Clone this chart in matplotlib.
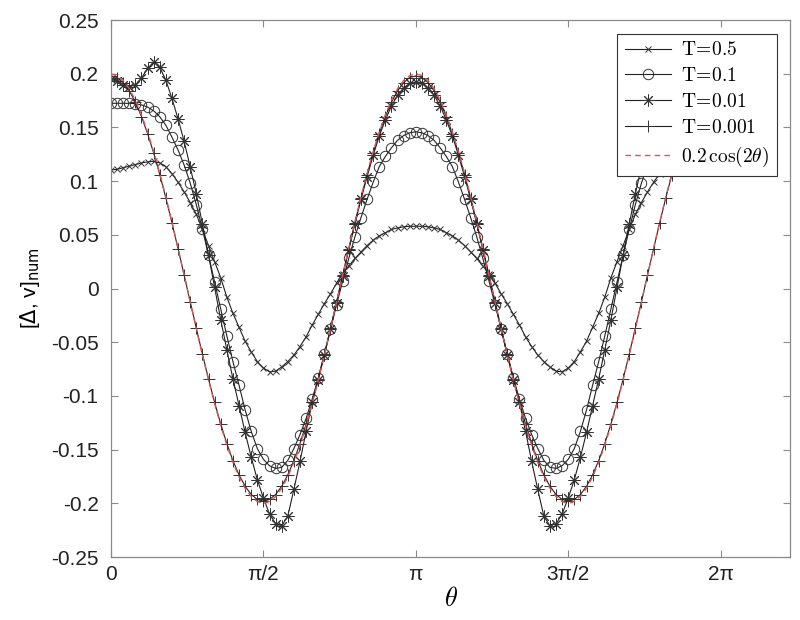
import numpy as np
import matplotlib.pyplot as plt

plt.rcParams['font.family'] = ['Liberation Sans', 'DejaVu Sans']
plt.rcParams['axes.unicode_minus'] = False

# sample angles (101 points over one period)
theta = np.linspace(0, 2 * np.pi, 101)

T05 = [0.1105, 0.111, 0.1125, 0.114, 0.1155, 0.117, 0.118, 0.1185, 0.117, 0.1135,
       0.107, 0.099, 0.090, 0.080, 0.069, 0.055, 0.040, 0.025, 0.010, -0.008,
       -0.023, -0.036, -0.049, -0.059, -0.068, -0.074, -0.0775, -0.077, -0.073, -0.068,
       -0.062, -0.054, -0.045, -0.034, -0.024, -0.014, -0.005, 0.005, 0.014, 0.021,
       0.028, 0.034, 0.040, 0.045, 0.049, 0.052, 0.055, 0.0565, 0.0575, 0.058,
       0.058,
       0.058, 0.0575, 0.0565, 0.055, 0.052, 0.049, 0.045, 0.040, 0.034, 0.028,
       0.021, 0.014, 0.005, -0.005, -0.014, -0.024, -0.034, -0.045, -0.054, -0.062,
       -0.068, -0.073, -0.077, -0.0775, -0.074, -0.068, -0.059, -0.049, -0.036, -0.023,
       -0.008, 0.010, 0.025, 0.040, 0.055, 0.069, 0.080, 0.090, 0.099, 0.107,
       0.1135, 0.117, 0.1185, 0.118, 0.117, 0.1155, 0.114, 0.1125, 0.111, 0.1105]

T01 = [0.1725, 0.1725, 0.1725, 0.1725, 0.1722, 0.171, 0.169, 0.1655, 0.160, 0.152,
       0.141, 0.129, 0.115, 0.098, 0.078, 0.055, 0.031, 0.006, -0.019, -0.044,
       -0.068, -0.090, -0.113, -0.133, -0.149, -0.159, -0.165, -0.1675, -0.1665, -0.160,
       -0.149, -0.136, -0.121, -0.103, -0.083, -0.061, -0.038, -0.015, 0.007, 0.028,
       0.048, 0.066, 0.083, 0.099, 0.1135, 0.123, 0.131, 0.138, 0.1425, 0.145,
       0.146,
       0.145, 0.1425, 0.138, 0.131, 0.123, 0.1135, 0.099, 0.083, 0.066, 0.048,
       0.028, 0.007, -0.015, -0.038, -0.061, -0.083, -0.103, -0.121, -0.136, -0.149,
       -0.160, -0.1665, -0.1675, -0.165, -0.159, -0.149, -0.133, -0.113, -0.090, -0.068,
       -0.044, -0.019, 0.006, 0.031, 0.055, 0.078, 0.098, 0.115, 0.129, 0.141,
       0.152, 0.160, 0.1655, 0.169, 0.171, 0.1722, 0.1725, 0.1725, 0.1725, 0.1725]

T001 = [0.195, 0.193, 0.190, 0.188, 0.1895, 0.196, 0.205, 0.211, 0.206, 0.194,
        0.177, 0.158, 0.137, 0.113, 0.088, 0.060, 0.031, 0.001, -0.029, -0.057,
        -0.084, -0.109, -0.134, -0.157, -0.178, -0.195, -0.210, -0.219, -0.221, -0.212,
        -0.187, -0.161, -0.133, -0.106, -0.085, -0.062, -0.038, -0.013, 0.012, 0.036,
        0.060, 0.083, 0.104, 0.124, 0.142, 0.157, 0.170, 0.180, 0.187, 0.191,
        0.192,
        0.191, 0.187, 0.180, 0.170, 0.157, 0.142, 0.124, 0.104, 0.083, 0.060,
        0.036, 0.012, -0.013, -0.038, -0.062, -0.085, -0.106, -0.133, -0.161, -0.187,
        -0.212, -0.221, -0.219, -0.210, -0.195, -0.178, -0.157, -0.134, -0.109, -0.084,
        -0.057, -0.029, 0.001, 0.031, 0.060, 0.088, 0.113, 0.137, 0.158, 0.177,
        0.194, 0.206, 0.211, 0.205, 0.196, 0.1895, 0.188, 0.190, 0.193, 0.195]

T0001 = [0.198, 0.1965, 0.1918, 0.1841, 0.1735, 0.1602, 0.1443, 0.1262, 0.1061, 0.0843,
         0.0612, 0.0371, 0.0125, -0.0125, -0.0371, -0.0612, -0.0843, -0.1061, -0.1262, -0.1443,
         -0.1602, -0.1735, -0.1841, -0.1918, -0.1964, -0.198, -0.1964, -0.1918, -0.1841, -0.1735,
         -0.1602, -0.1443, -0.1262, -0.1061, -0.0843, -0.0612, -0.0371, -0.0125, 0.0125, 0.0371,
         0.0612, 0.0843, 0.1061, 0.1262, 0.1443, 0.1602, 0.1735, 0.1841, 0.1918, 0.1965,
         0.198,
         0.1965, 0.1918, 0.1841, 0.1735, 0.1602, 0.1443, 0.1262, 0.1061, 0.0843, 0.0612,
         0.0371, 0.0125, -0.0125, -0.0371, -0.0612, -0.0843, -0.1061, -0.1262, -0.1443, -0.1602,
         -0.1735, -0.1841, -0.1918, -0.1964, -0.198, -0.1964, -0.1918, -0.1841, -0.1735, -0.1602,
         -0.1443, -0.1262, -0.1061, -0.0843, -0.0612, -0.0371, -0.0125, 0.0125, 0.0371, 0.0612,
         0.0843, 0.1061, 0.1262, 0.1443, 0.1602, 0.1735, 0.1841, 0.1918, 0.1965, 0.198]

REF = [0.2, 0.1984, 0.1937, 0.1860, 0.1753, 0.1618, 0.1458, 0.1275, 0.1072, 0.0852,
       0.0618, 0.0375, 0.0126, -0.0126, -0.0375, -0.0618, -0.0852, -0.1072, -0.1275, -0.1458,
       -0.1618, -0.1753, -0.1860, -0.1937, -0.1984, -0.2, -0.1984, -0.1937, -0.1860, -0.1753,
       -0.1618, -0.1458, -0.1275, -0.1072, -0.0852, -0.0618, -0.0375, -0.0126, 0.0126, 0.0375,
       0.0618, 0.0852, 0.1072, 0.1275, 0.1458, 0.1618, 0.1753, 0.1860, 0.1937, 0.1984,
       0.2,
       0.1984, 0.1937, 0.1860, 0.1753, 0.1618, 0.1458, 0.1275, 0.1072, 0.0852, 0.0618,
       0.0375, 0.0126, -0.0126, -0.0375, -0.0618, -0.0852, -0.1072, -0.1275, -0.1458, -0.1618,
       -0.1753, -0.1860, -0.1937, -0.1984, -0.2, -0.1984, -0.1937, -0.1860, -0.1753, -0.1618,
       -0.1458, -0.1275, -0.1072, -0.0852, -0.0618, -0.0375, -0.0126, 0.0126, 0.0375, 0.0618,
       0.0852, 0.1072, 0.1275, 0.1458, 0.1618, 0.1753, 0.1860, 0.1937, 0.1984, 0.2]

x_tick_labels = ['0', 'π/2', 'π', '3π/2', '2π']
y_tick_labels = ['-0.25', '-0.2', '-0.15', '-0.1', '-0.05', '0',
                 '0.05', '0.1', '0.15', '0.2', '0.25']

series = [
    (T05, 'x', r'$\mathrm{T}\!=\!0.5$', 5),
    (T01, 'o', r'$\mathrm{T}\!=\!0.1$', 7.5),
    (T001, (8, 2, 0), r'$\mathrm{T}\!=\!0.01$', 8.5),
    (T0001, '+', r'$\mathrm{T}\!=\!0.001$', 8.5),
]

fig = plt.figure(figsize=(8, 6.2), dpi=100)
ax = fig.add_axes([0.13875, 0.1016, 0.849, 0.866])

for vals, mk, lab, ms in series:
    ax.plot(theta, vals, color='#222222', linewidth=0.8, marker=mk,
            markersize=ms, markerfacecolor='none', markeredgecolor='#333333',
            markeredgewidth=0.7, label=lab)

ax.plot(theta, REF, color='#e8504f', linestyle=(0, (4, 3)), linewidth=1.0,
        label=r'$0.2\,\cos(2\theta)$')

ax.set_xlim(0, 7)
ax.set_ylim(-0.25, 0.25)
ax.set_xticks([0, np.pi / 2, np.pi, 3 * np.pi / 2, 2 * np.pi])
ax.set_xticklabels(x_tick_labels)
ax.set_yticks(np.linspace(-0.25, 0.25, 11))
ax.set_yticklabels(y_tick_labels)

for sp in ax.spines.values():
    sp.set_color('#8a8a8a')
    sp.set_linewidth(0.9)
ax.tick_params(direction='in', length=5, width=0.8, color='#8a8a8a',
               top=True, right=True, labelsize=15, labelcolor='#222222')
ax.tick_params(axis='y', pad=9)
ax.tick_params(axis='x', pad=6)

ax.set_xlabel(r'$\theta$', fontsize=19, math_fontfamily='cm', labelpad=2)
ylab = ax.set_ylabel(r'[$\Delta$, v]$_{\mathrm{num}}$', fontsize=15, labelpad=6)
ylab.set_math_fontfamily('dejavusans')

leg = ax.legend(loc='upper right', fontsize=14, fancybox=False, framealpha=1,
                edgecolor='#333333', handlelength=2.4, labelspacing=0.4,
                borderaxespad=0.7, borderpad=0.4, handletextpad=0.5, numpoints=1)
leg.get_frame().set_linewidth(0.8)
for t in leg.get_texts():
    t.set_math_fontfamily('cm')

plt.savefig('out.png', dpi=100)
plt.close()
